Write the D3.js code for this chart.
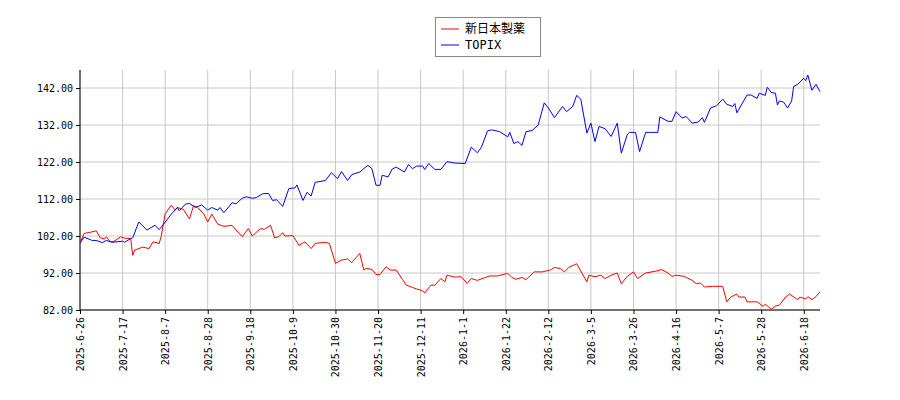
<!DOCTYPE html>
<html><head><meta charset="utf-8">
<script src="https://cdn.jsdelivr.net/npm/d3@7"></script>
<style>body{margin:0;background:#fff}</style></head>
<body><svg id="c" width="900" height="400"></svg>
<script>
const startDate = "2025-06-26";
const seriesNames = ["新日本製薬", "TOPIX"];
const yTicks = [82, 92, 102, 112, 122, 132, 142];
const redDays = [0,2,5,8,10,12,13,15,17,20,22,25,26,27,31,34,36,38,39,40,42,45,47,48,51,54,56,58,61,63,65,68,71,75,77,80,83,85,89,91,94,96,98,100,101,105,108,111,114,116,121,123,126,129,132,134,138,140,141,144,146,148,151,153,156,159,161,164,166,169,170,173,175,178,180,181,185,188,191,193,196,202,206,211,213,215,218,220,224,228,232,234,237,239,241,245,250,251,254,257,259,262,265,267,270,273,275,279,284,287,290,292,294,298,302,304,306,308,312,317,319,321,324,325,328,329,334,337,338,341,343,345,348,350,354,355,358,359,361,363,365];
const redVals = [100.1,102.7,103,103.4,101.5,101.2,101.8,100.4,100.6,101.8,101.4,101.3,96.8,98.2,99,98.6,100.4,100.2,99.9,101.8,108,110.3,109,109.7,109.2,106.6,110.2,109.7,108,105.8,107.9,105.2,104.6,104.9,103.6,101.8,104,102,104,103.8,104.9,101.5,101.8,102.9,102,102.1,99.5,100.4,98.6,100,100.3,100,94.6,95.5,95.8,94.8,97.3,92.8,93.2,93,91.6,91.6,93.7,92.8,92.8,90.3,88.7,88.1,87.7,87.2,86.6,88.7,88.7,90.5,89.6,91.4,90.9,91,89.2,90.5,90,91.2,91.2,91.9,90.8,90.3,90.8,90.2,92.3,92.3,92.8,93.5,93.2,92.3,93.5,94.5,89.6,91.4,91,91.4,90.5,91.4,92,89.1,91.1,92.3,90.5,92,92.5,92.9,92,91.1,91.4,91.1,90,89.1,89.3,88.2,88.4,88.4,84.2,85.5,86.3,85.5,85.5,84.2,84.2,83,83.6,82.2,83.1,83.3,85.5,86.3,84.8,85.5,85,85.6,84.8,85.6,86.9];
const blueDays = [0,2,6,8,11,13,16,21,22,25,26,29,33,37,39,41,45,48,49,52,54,57,60,63,65,68,69,71,75,77,80,82,85,87,90,93,95,97,100,103,106,107,110,112,114,116,121,124,127,129,132,134,138,142,144,146,148,149,152,154,156,160,162,164,166,169,170,172,175,178,181,185,190,193,196,198,201,203,207,211,212,214,216,218,220,223,226,229,231,234,238,240,243,245,247,250,252,254,256,259,262,265,267,270,271,274,276,279,281,285,286,290,292,294,297,299,302,305,307,308,311,314,317,319,322,323,324,329,331,334,335,338,339,341,343,344,345,347,349,351,352,354,357,358,359,361,363,365];
const blueVals = [100.1,101.7,100.8,100.8,100.2,100.8,100.3,100.6,100.3,101.3,101.5,105.8,103.6,104.9,103.7,105,107.9,109.7,108.8,110.6,110.8,109.7,110.4,109,109.7,109,109.7,108.3,111,110.7,112.2,112.6,112.2,112.4,113.4,113.5,111.6,111.8,110,114.8,115,115.8,111.6,113.8,112.8,116.5,117,119.1,117.5,119.4,117,118.6,119.3,121.1,120.2,115.7,115.7,118.4,118,120.1,120.6,119.3,121.3,120.2,120.9,120.9,120,121.6,120,120,122.1,121.7,121.6,126,124.5,126,130.4,130.7,130.2,128.8,130,127,127.5,126.5,130.2,130.5,132,138,136.6,134,137,135.6,137,140,139,129.8,132.5,127.5,131.6,131,128.9,132.5,124.4,129.5,130,130,124.8,130,130,130,134.2,133,133,135.6,133.9,134.3,132.5,132.8,134,132.7,136.6,137.2,139,137.6,137,137.8,135.3,140.1,140.1,139.2,140.6,140,142.2,140.8,140.6,137.4,138.5,138.2,136.6,138.5,142.4,143,144.6,144,145.5,141.4,143,141];

const parse = d3.timeParse("%Y-%m-%d");
const t0 = parse(startDate);
const toPts = (days, vals) => days.map((d,i)=>({date:d3.timeDay.offset(t0,d), v:vals[i]}));
const red = toPts(redDays, redVals), blue = toPts(blueDays, blueVals);

const svg = d3.select("#c");
const L=80, R=820, T=70, B=310;
const x = d3.scaleTime().domain([t0, d3.timeDay.offset(t0,365)]).range([L,R]);
const y = d3.scaleLinear().domain([82, 82+(B-T)/3.7]).range([B,T]);
const xTicks = d3.range(0, 365, 21).map(d=>d3.timeDay.offset(t0,d));
const fmt = d=>`${d.getFullYear()}-${d.getMonth()+1}-${d.getDate()}`;

const g = svg.append("g");
g.selectAll(".gx").data(xTicks).join("line").attr("x1",d=>x(d)).attr("x2",d=>x(d)).attr("y1",T).attr("y2",B).attr("stroke","#c8c8c8");
g.selectAll(".gy").data(yTicks).join("line").attr("x1",L).attr("x2",R).attr("y1",d=>y(d)).attr("y2",d=>y(d)).attr("stroke","#c8c8c8");

const ya = svg.append("g").attr("transform",`translate(${L},0)`).call(d3.axisLeft(y).tickValues(yTicks).tickFormat(d3.format(".2f")).tickSize(4).tickSizeOuter(0));
ya.select(".domain").attr("d",`M0,${T}V${B}`);
const xa = svg.append("g").attr("transform",`translate(0,${B})`).call(d3.axisBottom(x).tickValues(xTicks).tickFormat(fmt).tickSize(4).tickSizeOuter(0));
xa.select(".domain").attr("d",`M${L},0H${R}`);
xa.selectAll("text").attr("transform","rotate(-90)").attr("text-anchor","end").attr("x",-7).attr("y",0).attr("dy","0.35em");
svg.selectAll(".tick text").attr("font-family","DejaVu Sans Mono, monospace").attr("font-size",10).attr("fill","#000");
svg.selectAll(".domain, .tick line").attr("stroke","#000");

const line = d3.line().x(d=>x(d.date)).y(d=>y(d.v));
svg.append("path").datum(red).attr("d",line).attr("fill","none").attr("stroke","#ff0000").attr("stroke-width",1);
svg.append("path").datum(blue).attr("d",line).attr("fill","none").attr("stroke","#0000ff").attr("stroke-width",1);

const lg = svg.append("g");
lg.append("rect").attr("x",435.5).attr("y",17.5).attr("width",105).attr("height",39).attr("fill","#fff").attr("stroke","#888");
const cols=["#ff0000","#0000ff"];
seriesNames.forEach((n,i)=>{
  lg.append("line").attr("x1",441).attr("x2",459).attr("y1",29+i*16).attr("y2",29+i*16).attr("stroke",cols[i]);
  lg.append("text").attr("x",465).attr("y",33+i*16).text(n).attr("font-size",12).attr("font-family",i?"DejaVu Sans Mono, monospace":"Noto Sans CJK JP, sans-serif");
});
</script></body></html>
